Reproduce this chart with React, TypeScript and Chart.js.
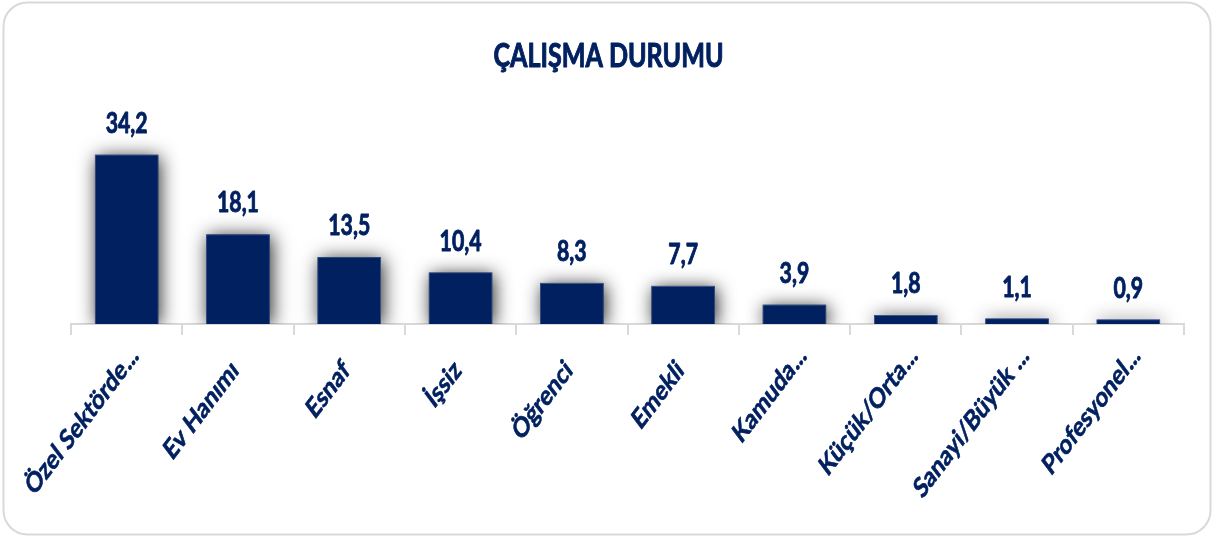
import React, { useEffect, useRef } from 'react';
import { Chart, registerables } from 'chart.js';

Chart.register(...registerables);

// ---- data ----
const categories = [
  'Özel Sektörde...',
  'Ev Hanımı',
  'Esnaf',
  'İşsiz',
  'Öğrenci',
  'Emekli',
  'Kamuda...',
  'Küçük/Orta...',
  'Sanayi/Büyük ...',
  'Profesyonel...',
];
const values = [34.2, 18.1, 13.5, 10.4, 8.3, 7.7, 3.9, 1.8, 1.1, 0.9];
const titleText = 'ÇALIŞMA DURUMU';
const yMin = 0;
const yMax = 40;

// ---- style ----
const NAVY = '#002060';
const SQUISH = 0.76;
const FONT = 'Lato, "Open Sans", sans-serif';
const W = 1213;
const H = 538;

const fmt = (v: number) => v.toFixed(1).replace('.', ',');

const framePlugin = {
  id: 'frame',
  beforeDraw(chart: any) {
    const ctx = chart.ctx;
    ctx.save();
    ctx.fillStyle = '#ffffff';
    ctx.fillRect(0, 0, W, H);
    const x = 3.5, y = 2.5, w = 1207, h = 532, r = 24;
    ctx.beginPath();
    ctx.moveTo(x + r, y);
    ctx.lineTo(x + w - r, y);
    ctx.arcTo(x + w, y, x + w, y + r, r);
    ctx.lineTo(x + w, y + h - r);
    ctx.arcTo(x + w, y + h, x + w - r, y + h, r);
    ctx.lineTo(x + r, y + h);
    ctx.arcTo(x, y + h, x, y + h - r, r);
    ctx.lineTo(x, y + r);
    ctx.arcTo(x, y, x + r, y, r);
    ctx.closePath();
    ctx.strokeStyle = '#d9d9d9';
    ctx.lineWidth = 2;
    ctx.stroke();
    ctx.restore();
  },
};

// soft shadow behind each bar (drawn from the bar elements' own geometry)
const shadowPlugin = {
  id: 'barShadow',
  beforeDatasetsDraw(chart: any) {
    const ctx = chart.ctx;
    const area = chart.chartArea;
    const meta = chart.getDatasetMeta(0);
    ctx.save();
    ctx.beginPath();
    ctx.rect(0, 0, W, area.bottom);
    ctx.clip();
    ctx.shadowColor = 'rgba(0,0,0,0.85)';
    ctx.shadowBlur = 18;
    ctx.shadowOffsetX = 2;
    ctx.shadowOffsetY = 2;
    ctx.fillStyle = NAVY;
    meta.data.forEach((bar: any) => {
      const p = bar.getProps(['x', 'y', 'base', 'width'], true);
      ctx.fillRect(p.x - p.width / 2, p.y, p.width, p.base - p.y);
    });
    ctx.restore();
  },
};

function heavyText(ctx: any, s: string, x: number, y: number, lw: number) {
  ctx.lineJoin = 'round';
  ctx.lineWidth = lw;
  ctx.strokeStyle = NAVY;
  ctx.strokeText(s, x, y);
  ctx.fillText(s, x, y);
}

const textPlugin = {
  id: 'texts',
  afterDraw(chart: any) {
    const ctx = chart.ctx;
    const xs = chart.scales.x;
    const meta = chart.getDatasetMeta(0);
    const axisY = chart.chartArea.bottom;

    // title
    ctx.save();
    ctx.fillStyle = NAVY;
    ctx.font = `bold 33px ${FONT}`;
    ctx.textAlign = 'center';
    ctx.textBaseline = 'alphabetic';
    ctx.translate(608.5, 67);
    ctx.scale(SQUISH, 1);
    heavyText(ctx, titleText, 0, 0, 1.0);
    ctx.restore();

    // data labels
    meta.data.forEach((bar: any, i: number) => {
      ctx.save();
      ctx.fillStyle = NAVY;
      ctx.font = `bold 28px ${FONT}`;
      ctx.textAlign = 'center';
      ctx.textBaseline = 'alphabetic';
      ctx.translate(bar.x, bar.y - 22);
      ctx.scale(SQUISH, 1);
      heavyText(ctx, fmt(values[i]), 0, 0, 0.9);
      ctx.restore();
    });

    // category labels
    categories.forEach((lab, i) => {
      const cx = xs.getPixelForValue(i);
      let base = lab;
      let tail = '';
      if (lab.endsWith('...')) {
        base = lab.slice(0, -3);
        tail = '...';
      }
      ctx.save();
      ctx.fillStyle = NAVY;
      ctx.font = `bold 28px ${FONT}`;
      ctx.textBaseline = 'alphabetic';
      ctx.translate(cx + 2, axisY + 48);
      ctx.scale(SQUISH, 1);
      ctx.rotate(-Math.PI / 4);
      ctx.textAlign = 'right';
      heavyText(ctx, base, 0, 0, 0.7);
      if (tail) {
        ctx.textAlign = 'left';
        heavyText(ctx, tail, 1, 0, 0.7);
      }
      ctx.restore();
    });
  },
};

export default function App() {
  const ref = useRef<HTMLCanvasElement | null>(null);

  useEffect(() => {
    if (!ref.current) return;
    const chart = new Chart(ref.current, {
      type: 'bar',
      data: {
        labels: categories,
        datasets: [
          {
            data: values,
            backgroundColor: NAVY,
            borderColor: '#3c5385',
            borderWidth: 1,
            barPercentage: 0.57,
            categoryPercentage: 1,
          },
        ],
      },
      options: {
        animation: false,
        responsive: false,
        devicePixelRatio: 1,
        layout: { padding: { left: 71, right: 29, top: 126, bottom: 214 } },
        plugins: {
          legend: { display: false },
          title: { display: false },
          tooltip: { enabled: false },
        },
        scales: {
          x: {
            z: 1,
            grid: {
              display: true,
              drawOnChartArea: false,
              drawTicks: true,
              tickLength: 11,
              color: '#d9d9d9',
              lineWidth: 2,
              offset: true,
            },
            border: { display: true, color: '#d9d9d9', width: 2 },
            ticks: { display: false },
            afterFit: (scale: any) => {
              scale.height = 0;
            },
          },
          y: {
            display: false,
            min: yMin,
            max: yMax,
          },
        },
      },
      plugins: [framePlugin, shadowPlugin, textPlugin],
    });
    return () => chart.destroy();
  }, []);

  return (
    <div style={{ position: 'absolute', left: 0, top: 0, width: W, height: H }}>
      <canvas ref={ref} width={W} height={H} style={{ display: 'block', width: W, height: H }} />
    </div>
  );
}
